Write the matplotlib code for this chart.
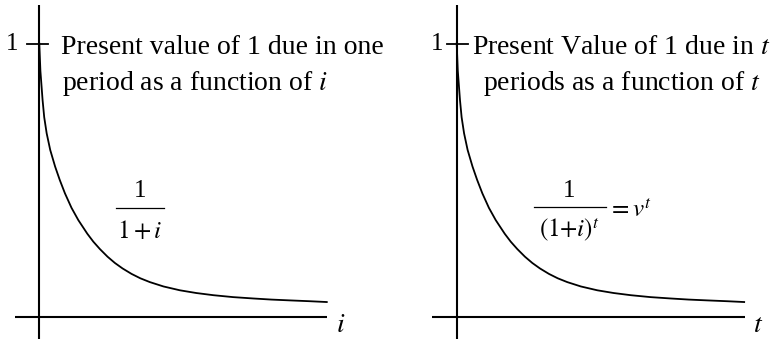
import numpy as np
import matplotlib.pyplot as plt

plt.rcParams['font.family'] = 'serif'
plt.rcParams['font.serif'] = ['Liberation Serif', 'DejaVu Serif']
plt.rcParams['mathtext.fontset'] = 'stix'

# present value curve, read at points along the horizontal axis
rate = [0.0, 0.004, 0.012, 0.018, 0.027, 0.04, 0.058, 0.075, 0.094, 0.118,
        0.143, 0.176, 0.198, 0.222, 0.25, 0.277, 0.305, 0.338, 0.37, 0.405,
        0.455, 0.515, 0.575, 0.638, 0.71, 0.784, 0.85, 0.918, 0.99, 1.053]
pv_one = [1.0, 0.9, 0.793, 0.73, 0.671, 0.61, 0.549, 0.5, 0.451, 0.398,
          0.353, 0.303, 0.274, 0.247, 0.219, 0.196, 0.176, 0.156, 0.140, 0.126,
          0.110, 0.096, 0.086, 0.078, 0.071, 0.066, 0.062, 0.059, 0.056, 0.053]
periods = rate
pv_t = pv_one

W, H = 780, 339
unit = 273.0


def panel(left_px, origin_px, origin_py):
    # axes over one half of the figure, data origin where the axes cross
    ax = fig.add_axes([left_px / W, 0, 390 / W, 1])
    ax.set_xlim(-(origin_px - left_px) / unit, (left_px + 390 - origin_px) / unit)
    ax.set_ylim(-(H - origin_py) / unit, origin_py / unit)
    ax.axis('off')
    ax.plot([0, 0], [-0.09, 1.141], color='black', lw=1.5, solid_capstyle='butt')
    ax.plot([-0.089, 1.055], [0, 0], color='black', lw=1.5, solid_capstyle='butt')
    return ax


def fraction(ax, x, num, den, bar_from, bar_to, y_bar):
    ax.text(x, y_bar + 0.037, num, fontsize=18, ha='center', va='baseline')
    ax.plot([bar_from, bar_to], [y_bar, y_bar], color='black', lw=0.9)
    ax.text(x, y_bar - 0.111, den, fontsize=18, ha='center', va='baseline')


fig = plt.figure(figsize=(W / 100, H / 100), dpi=100)

# left: one period, function of i
ax1 = panel(0, 39.3, 316.5)
ax1.plot([-0.046, 0.031], [1, 1], color='black', lw=1.3)
ax1.text(-0.098, 1, '1', fontsize=18, ha='center', va='center')
ax1.plot(rate, pv_one, color='black', lw=1.3, solid_joinstyle='round')
ax1.text(0.079, 0.962, 'Present value of 1 due in one', fontsize=20,
         ha='left', va='baseline')
ax1.text(0.082, 0.83, 'period as a function of $i$', fontsize=20,
         ha='left', va='baseline')
fraction(ax1, 0.368, '1', '$1+i$', 0.280, 0.457, 0.399)
ax1.text(1.105, -0.055, '$i$', fontsize=20, ha='center', va='baseline')

# right: t periods, function of t
ax2 = panel(390, 456.7, 316.5)
ax2.plot([-0.034, 0.041], [1, 1], color='black', lw=1.3)
ax2.text(-0.073, 1, '1', fontsize=18, ha='center', va='center')
ax2.plot(periods, pv_t, color='black', lw=1.3, solid_joinstyle='round')
ax2.text(0.604, 0.962, 'Present Value of 1 due in $t$', fontsize=20,
         ha='center', va='baseline')
ax2.text(0.604, 0.83, 'periods as a function of $t$', fontsize=20,
         ha='center', va='baseline')
fraction(ax2, 0.413, '1', '$(1{+}i)^t$', 0.283, 0.547, 0.401)
ax2.text(0.556, 0.366, '$=v^t$', fontsize=18, ha='left', va='baseline')
ax2.text(1.105, -0.055, '$t$', fontsize=20, ha='center', va='baseline')

fig.savefig('out.png', dpi=100)
